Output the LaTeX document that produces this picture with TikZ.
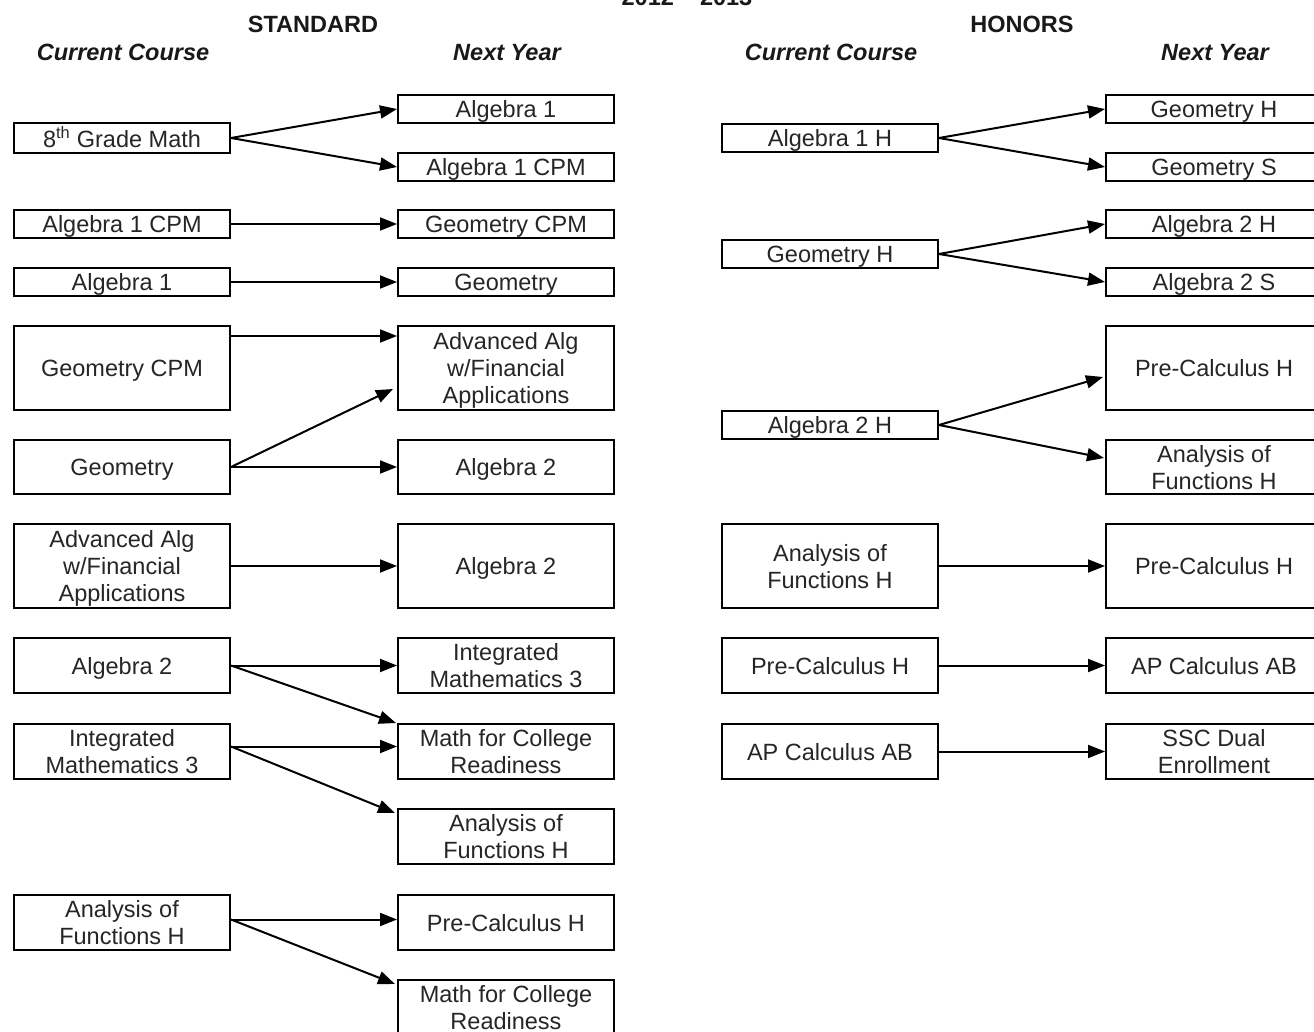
\documentclass[tikz,border=0pt]{standalone}
\usepackage{fontspec}
\setmainfont{Liberation Sans}
\usetikzlibrary{arrows.meta}
\tikzset{
  box/.style={draw=black, line width=2pt, minimum width=216pt, inner sep=0pt,
    font=\fontsize{23.5}{27}\selectfont, text=black!85},
  hdr/.style={anchor=base, font=\fontsize{23.5}{27}\selectfont\bfseries, text=black!90},
  sub/.style={anchor=base, font=\fontsize{23.5}{27}\selectfont\bfseries\itshape, text=black!90},
  arr/.style={line width=2pt, -{Triangle[length=17pt,width=13pt]}}
}
\newcommand{\bx}[5]{\node[box, minimum height={(#4-#3)*1pt}] (#1) at (#2,{(#3+#4)/2})
  {\raisebox{-3.5pt}[\height][\depth]{\begin{tabular}{@{}c@{}}#5\end{tabular}}};}
\begin{document}
\begin{tikzpicture}[x=1pt,y=-1pt]
\useasboundingbox (0,0) rectangle (1314,1032);
\clip (0,0) rectangle (1314,1032);
\fill[white] (0,0) rectangle (1314,1032);
% headers
\node[hdr] (title) at (687,6) {2012 -- 2013};
\node[hdr] (std) at (313,33) {STANDARD};
\node[hdr] (hon) at (1022,33) {HONORS};
\node[sub] (cc1) at (123,61) {Current Course};
\node[sub] (ny1) at (507,61) {Next Year};
\node[sub] (cc2) at (831,61) {Current Course};
\node[sub] (ny2) at (1215,61) {Next Year};
% standard current
\bx{sA}{122}{124}{152}{8\textsuperscript{th} Grade Math}
\bx{sB}{122}{210}{238}{Algebra 1 CPM}
\bx{sC}{122}{268}{296}{Algebra 1}
\bx{sD}{122}{326}{410}{Geometry CPM}
\bx{sE}{122}{440}{494}{Geometry}
\bx{sF}{122}{524}{608}{Advanced Alg\\w/Financial\\Applications}
\bx{sG}{122}{638}{693}{Algebra 2}
\bx{sH}{122}{724}{779}{Integrated\\Mathematics 3}
\bx{sI}{122}{895}{950}{Analysis of\\Functions H}
% standard next
\bx{nA}{506}{95}{123}{Algebra 1}
\bx{nB}{506}{153}{181}{Algebra 1 CPM}
\bx{nC}{506}{210}{238}{Geometry CPM}
\bx{nD}{506}{268}{296}{Geometry}
\bx{nE}{506}{326}{410}{Advanced Alg\\w/Financial\\Applications}
\bx{nF}{506}{440}{494}{Algebra 2}
\bx{nG}{506}{524}{608}{Algebra 2}
\bx{nH}{506}{638}{693}{Integrated\\Mathematics 3}
\bx{nI}{506}{724}{779}{Math for College\\Readiness}
\bx{nJ}{506}{809}{864}{Analysis of\\Functions H}
\bx{nK}{506}{895}{950}{Pre-Calculus H}
\bx{nL}{506}{980}{1035}{Math for College\\Readiness}
% honors current
\bx{hA}{830}{124}{152}{Algebra 1 H}
\bx{hB}{830}{240}{268}{Geometry H}
\bx{hC}{830}{411}{439}{Algebra 2 H}
\bx{hD}{830}{524}{608}{Analysis of\\Functions H}
\bx{hE}{830}{638}{693}{Pre-Calculus H}
\bx{hF}{830}{724}{779}{AP Calculus AB}
% honors next
\bx{mA}{1214}{95}{123}{Geometry H}
\bx{mB}{1214}{153}{181}{Geometry S}
\bx{mC}{1214}{210}{238}{Algebra 2 H}
\bx{mD}{1214}{268}{296}{Algebra 2 S}
\bx{mE}{1214}{326}{410}{Pre-Calculus H}
\bx{mF}{1214}{440}{494}{Analysis of\\Functions H}
\bx{mG}{1214}{524}{608}{Pre-Calculus H}
\bx{mH}{1214}{638}{693}{AP Calculus AB}
\bx{mI}{1214}{724}{779}{SSC Dual\\Enrollment}
% standard arrows
\draw[arr] (sA.east) -- (nA.west);
\draw[arr] (sA.east) -- (nB.west);
\draw[arr] (sB.east) -- (nC.west);
\draw[arr] (sC.east) -- (nD.west);
\draw[arr] ([yshift=32pt]sD.east) -- ([yshift=32pt]nE.west);
\draw[arr] (sE.east) -- ([yshift=-21pt,xshift=-4pt]nE.west);
\draw[arr] (sE.east) -- (nF.west);
\draw[arr] (sF.east) -- (nG.west);
\draw[arr] (sG.east) -- (nH.west);
\draw[arr] (sG.east) -- ([xshift=-1pt]nI.north west);
\draw[arr] ([yshift=5pt]sH.east) -- ([yshift=5pt]nI.west);
\draw[arr] ([yshift=5pt]sH.east) -- ([yshift=-5pt,xshift=-2pt]nJ.north west);
\draw[arr] ([yshift=3pt]sI.east) -- ([yshift=3pt]nK.west);
\draw[arr] ([yshift=3pt]sI.east) -- ([yshift=-5pt,xshift=-2pt]nL.north west);
% honors arrows
\draw[arr] (hA.east) -- (mA.west);
\draw[arr] (hA.east) -- (mB.west);
\draw[arr] (hB.east) -- (mC.west);
\draw[arr] (hB.east) -- (mD.west);
\draw[arr] (hC.east) -- ([yshift=-9pt,xshift=-2pt]mE.west);
\draw[arr] (hC.east) -- ([yshift=9pt,xshift=-1pt]mF.west);
\draw[arr] (hD.east) -- (mG.west);
\draw[arr] (hE.east) -- (mH.west);
\draw[arr] (hF.east) -- (mI.west);
\end{tikzpicture}
\end{document}
